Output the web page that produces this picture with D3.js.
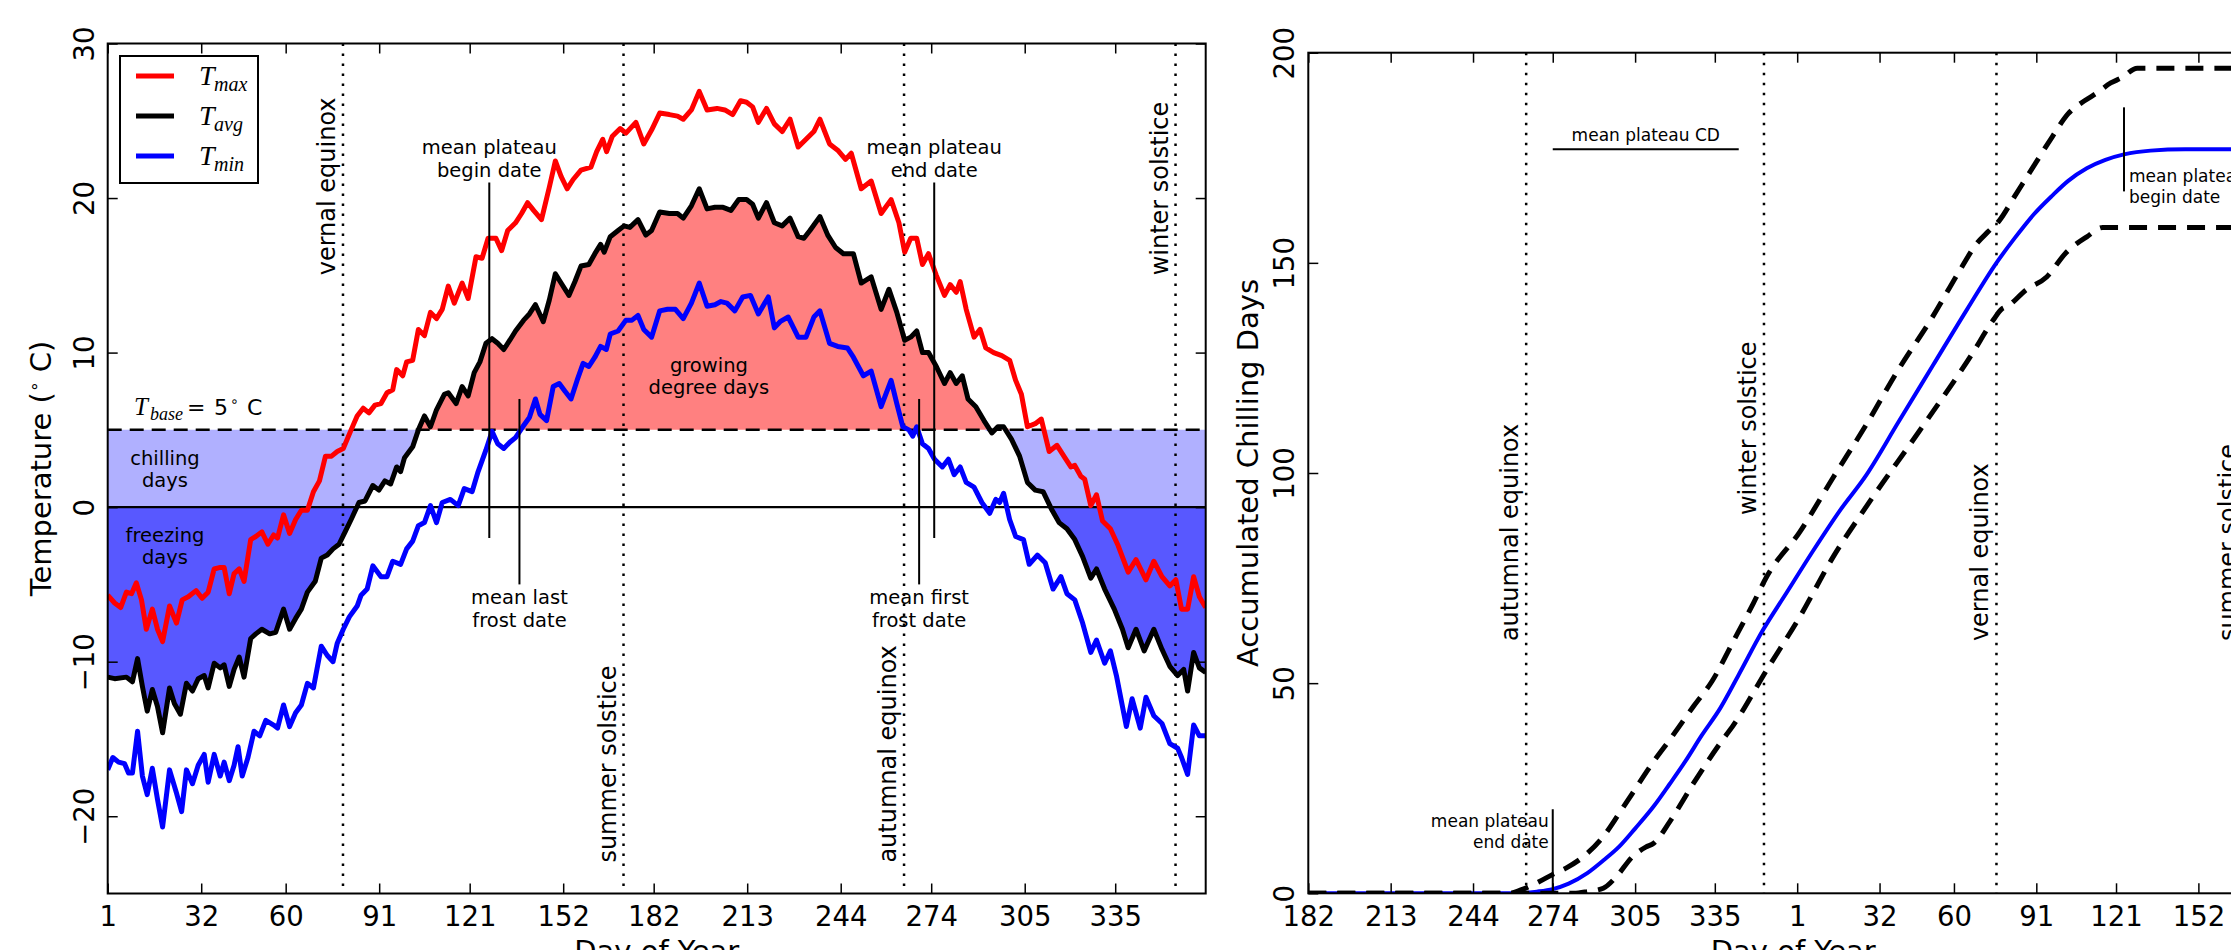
<!DOCTYPE html>
<html>
<head>
<meta charset="utf-8">
<script src="https://cdn.jsdelivr.net/npm/d3@7"></script>
<style>
    body { margin: 0; background: #fff; }
    svg { display: block; font-family: "DejaVu Sans", sans-serif; }
    .tick line { stroke: #000; stroke-width: 1.5; }
    .tick text { fill: #000; }
</style>
</head>
<body>
<svg id="chart" width="2231" height="950"></svg>
<script>
"use strict";

// ---------- left panel: daily temperatures, [day of year, deg C] ----------
const tmaxPoints = [[1,-5.7],[3.3,-6.2],[5.3,-6.5],[7.2,-5.5],[8.9,-5.6],[10.5,-4.9],[12.2,-6.0],[13.8,-7.9],[15.8,-6.6],[17.5,-7.9],[19.2,-8.7],[21.5,-6.4],[23.8,-7.5],[25.7,-6.0],[27.7,-5.8],[30.3,-5.4],[32.3,-5.9],[34.3,-5.5],[36.3,-4.0],[38.3,-3.9],[39.6,-3.9],[41.3,-5.6],[42.9,-4.3],[44.6,-4.0],[46.2,-4.8],[48.4,-2.1],[50.1,-1.9],[52.1,-1.6],[54.1,-2.4],[56,-1.8],[57.3,-2.0],[59.3,-0.5],[61.3,-1.7],[63.3,-0.8],[65.2,-0.2],[67.2,-0.2],[69.2,1.0],[71.2,1.7],[73.2,3.3],[75.2,3.3],[77.1,3.6],[79.1,3.8],[81.7,5.0],[83.7,5.9],[85.7,6.4],[87.6,6.1],[89.6,6.6],[91.6,6.7],[93.6,7.4],[95.5,7.6],[96.8,8.9],[98.8,8.5],[100.1,9.4],[102.1,9.5],[104,11.5],[106,11.1],[108,12.6],[110,12.2],[111.9,12.8],[113.9,14.3],[115.9,13.2],[118.5,14.5],[120.5,13.5],[123.1,16.2],[125.1,16.1],[127.1,17.4],[129.7,17.4],[131.6,16.6],[133.6,17.9],[136.2,18.4],[138.2,19.0],[140.2,19.7],[142.2,19.2],[144.8,18.6],[147.4,20.7],[149.4,22.4],[151.3,21.4],[153.3,20.6],[155.3,21.2],[157.9,21.8],[161.2,22.0],[163.1,23.0],[165.1,23.8],[166.4,23.0],[168.3,24.0],[170.9,24.5],[172.8,24.2],[176.1,24.9],[178.7,23.5],[181.3,24.4],[184,25.5],[187.2,25.4],[189.9,25.3],[191.8,25.1],[194.5,25.7],[197.1,26.9],[199.7,25.7],[203,25.8],[205.6,25.7],[208.2,25.4],[210.8,26.3],[212.8,26.2],[214.8,25.9],[216.7,24.9],[219.4,25.8],[222,24.8],[224.6,24.3],[227.2,25.1],[229.9,23.3],[232.5,23.8],[235.1,24.3],[237.1,25.1],[240.3,23.5],[243,23.1],[245.6,22.5],[247.5,22.9],[250.8,20.6],[254.1,21.1],[257.4,19.0],[260.7,19.9],[263.3,18.4],[265.2,16.5],[267.2,17.4],[269.2,17.4],[271.1,15.7],[273.1,16.4],[275.7,15.0],[278.4,13.7],[280.3,14.4],[282.3,13.9],[283.6,14.6],[285.6,12.8],[288.2,11.0],[290.2,11.5],[292.1,10.3],[294.7,10.0],[297.4,9.8],[300,9.5],[302,8.2],[303.9,7.3],[305.9,5.2],[308.5,5.4],[310.5,5.7],[313.1,3.6],[315.7,4.0],[318.3,3.2],[320.3,2.6],[321.6,2.7],[323.6,2.0],[324.9,1.8],[326.9,0.1],[328.8,0.8],[330.8,-0.9],[333.4,-1.4],[336,-2.5],[339.3,-4.2],[341.9,-3.4],[345.2,-4.7],[347.8,-3.5],[350.5,-4.5],[353.1,-5.1],[355.1,-4.7],[357,-6.6],[359,-6.6],[361,-4.5],[362.9,-5.8],[365,-6.5]];

const tavgPoints = [[1,-11.0],[3.3,-11.1],[7.2,-11.0],[9.2,-11.3],[10.9,-9.8],[12.5,-11.6],[14.1,-13.2],[15.8,-11.8],[17.5,-12.9],[19.2,-14.6],[21.5,-11.7],[23.1,-12.7],[25.1,-13.4],[27.1,-11.4],[29.1,-11.9],[31,-11.1],[33,-10.9],[34.3,-11.7],[36.3,-10.1],[38.3,-10.4],[39.6,-10.2],[41.3,-11.6],[42.9,-10.5],[44.6,-9.7],[46.2,-11.0],[48.4,-8.5],[50.1,-8.2],[52.1,-7.9],[54.7,-8.2],[56.7,-8.1],[59.3,-6.6],[61.3,-7.9],[63.3,-7.2],[65.2,-6.6],[67.2,-5.5],[69.8,-4.8],[71.8,-3.3],[73.8,-3.1],[75.7,-2.7],[77.7,-2.4],[79.7,-1.6],[81.7,-0.8],[84.3,0.3],[86.3,0.4],[88.9,1.4],[90.9,1.1],[92.9,1.7],[94.8,1.5],[96.8,2.6],[98.1,2.3],[99.4,3.2],[102.1,3.9],[104,5.0],[106,5.9],[108,5.2],[110,6.3],[112.6,7.3],[113.9,7.4],[116.5,6.7],[118.5,7.8],[120.5,7.2],[122.5,8.7],[124.4,9.4],[126.4,10.6],[128.4,10.9],[130.3,10.6],[132.3,10.2],[134.3,10.8],[136.2,11.4],[138.9,12.1],[140.8,12.5],[142.8,13.1],[145.4,12.0],[147.4,13.4],[149.4,15.1],[151.3,14.5],[153.9,13.7],[155.9,14.6],[157.9,15.6],[160.5,15.7],[162.5,16.4],[164.4,17.0],[165.6,16.5],[167.6,17.5],[170.2,17.9],[172.2,18.2],[174.1,18.1],[176.8,18.6],[179.4,17.6],[181.3,17.9],[184,19.1],[187.2,19.0],[189.9,19.0],[191.8,18.7],[194.5,19.5],[197.1,20.6],[199.7,19.3],[202.3,19.4],[205,19.4],[207.6,19.2],[210.2,19.9],[212.8,19.9],[214.8,19.6],[216.7,18.7],[219.4,19.7],[222,18.4],[224.6,18.2],[227.2,18.7],[229.9,17.5],[231.8,17.4],[233.8,17.9],[237.1,18.8],[239.7,17.6],[242.3,16.8],[244.9,16.4],[248.2,16.4],[250.8,14.5],[254.1,14.9],[257.4,12.8],[260,14.1],[262.6,12.6],[265.2,10.8],[267.2,11.0],[269.2,11.4],[271.1,10.0],[273.1,10.0],[275.7,9.1],[278.4,8.0],[280.3,8.7],[282.3,8.0],[284.3,8.5],[286.2,7.0],[288.8,6.5],[291.5,5.6],[294.1,4.8],[296.1,5.2],[298,5.2],[300.6,4.4],[303.3,3.3],[305.9,1.6],[308.5,1.1],[311.1,1.0],[313.8,-0.1],[316.4,-1.0],[319,-1.4],[321.6,-2.1],[324.2,-3.2],[326.9,-4.6],[328.8,-4.0],[331.5,-5.3],[334.7,-6.6],[337.4,-7.9],[339.3,-9.1],[341.9,-7.9],[344.6,-9.3],[347.8,-7.9],[350.5,-9.2],[353.1,-10.3],[355.7,-10.9],[357.7,-10.5],[359,-11.9],[361,-9.4],[362.9,-10.4],[365,-10.7]];

const tminPoints = [[1,-17.0],[2.7,-16.2],[4.6,-16.5],[6.6,-16.6],[7.9,-17.2],[9.2,-17.2],[10.9,-14.5],[12.5,-17.4],[14.1,-18.6],[15.8,-16.9],[17.5,-18.9],[19.2,-20.7],[21.5,-17.0],[23.8,-18.5],[25.5,-19.7],[27.1,-17.0],[29.1,-17.9],[31,-16.7],[33,-16.0],[34.3,-17.8],[36.3,-16.0],[38.3,-17.4],[39.6,-16.5],[41.3,-17.7],[42.9,-16.7],[44.2,-15.5],[45.6,-17.4],[47.5,-16.2],[49.5,-14.5],[51.4,-14.8],[53.4,-13.8],[56,-14.1],[57.3,-14.3],[59.3,-12.8],[61.3,-14.2],[63.3,-13.3],[65.2,-12.8],[67.2,-11.4],[69.2,-11.7],[71.8,-9.0],[73.8,-9.6],[75.7,-10.0],[77.1,-8.8],[79.1,-7.9],[81.1,-7.1],[83.7,-6.4],[85,-5.7],[87,-5.3],[88.9,-3.8],[91.6,-4.5],[93.6,-4.5],[95.5,-3.5],[98.1,-3.7],[100.1,-2.7],[102.1,-2.2],[104,-1.2],[106,-1.0],[108,0.1],[110,-1.0],[111.9,0.3],[114.6,0.5],[117.2,0.1],[119.2,1.2],[121.8,1.0],[123.8,2.3],[126.4,3.7],[128.4,4.9],[130.3,4.1],[132.3,3.8],[134.3,4.2],[136.2,4.5],[138.6,5.2],[140.8,5.8],[142.8,7.0],[144.3,6.0],[146.5,5.6],[148.7,7.8],[150.7,8.0],[152.6,7.5],[154.6,7.0],[156.6,8.2],[158.6,9.3],[160.5,9.1],[162.5,9.7],[164.4,10.4],[166.3,10.2],[167.6,11.2],[170.2,11.4],[172.8,12.1],[174.8,12.1],[176.8,12.4],[178.7,11.5],[181.3,11.0],[184,12.7],[186.6,12.8],[189.2,12.8],[191.8,12.2],[194.5,13.2],[197.1,14.5],[199.7,13.0],[202.3,13.1],[204.3,13.3],[206.3,13.2],[208.9,12.7],[211.5,13.6],[214.1,13.7],[216.7,12.5],[220,13.6],[222,11.6],[223.9,12.0],[226.6,12.3],[229.9,11.0],[232.5,11.0],[235.1,12.3],[237.1,12.7],[240.3,10.6],[243,10.4],[246.2,10.3],[248.2,9.7],[251.5,8.5],[254.1,8.8],[257.4,6.5],[260.7,8.2],[262.6,6.7],[264.6,5.2],[266.6,5.0],[267.9,4.6],[269.2,5.2],[271.1,4.1],[273.1,3.8],[275.1,3.1],[277.7,2.6],[279.7,3.1],[281.6,2.1],[283.6,2.6],[285.6,1.6],[288.2,1.3],[290.8,0.3],[293.4,-0.4],[295.4,0.5],[296.7,0.3],[298,0.9],[300,-0.8],[302,-1.9],[304.6,-2.1],[306.5,-3.7],[309.2,-3.1],[311.8,-3.6],[314.4,-5.3],[317,-4.5],[319,-5.6],[321.6,-6.0],[324.2,-7.5],[326.9,-9.4],[328.8,-8.6],[331.5,-10.1],[333.4,-9.3],[335.4,-10.9],[338.7,-14.2],[340.6,-12.4],[343.3,-14.3],[345.2,-12.3],[347.8,-13.5],[350.5,-14.0],[353.1,-15.3],[355.7,-15.6],[357,-16.2],[359,-17.3],[361,-14.1],[362.9,-14.8],[365,-14.8]];

const tBase = 5;
const seasonDays = [79, 172, 265, 355];
const seasonNames = ["vernal equinox", "summer solstice", "autumnal equinox", "winter solstice"];
const dayTicks = [1, 32, 60, 91, 121, 152, 182, 213, 244, 274, 305, 335];
const tempTicks = [-20, -10, 0, 10, 20, 30];
// mean plateau begin / end and mean last / first frost, day of year
const plateauDays = [127.5, 275];
const frostDays = [137.5, 270];

// ---------- right panel: accumulated chilling days, [day counted from Jan 1 of year one, CD] ----------
// days after 365 belong to the following year (366 = Jan 1)
const cdMean = [[182,0],[260,0],[268,0.4],[274,1],[280,2.3],[287,4.8],[293,7.8],[299,11.1],[305,15.4],[312,20.7],[318,26],[324,31.5],[330,37.5],[337,44],[344,52],[353,62.5],[362,71.5],[372,81.5],[382,91],[392,99.5],[404,112],[417,125.5],[430,139],[441,150],[448,156],[455,161.5],[462,166],[468,169.5],[475,172.5],[482,174.5],[489,175.8],[499,176.7],[512,177],[547,177]];
const cdUpper = [[182,0],[258,0],[262,0.8],[269,2.8],[274,4.5],[279,6],[285.5,8.7],[293,13.5],[299,19],[304,23.8],[311,30.5],[318,36.5],[327,44.5],[334,50.5],[342,60],[349.5,69],[354.5,75.3],[367,86],[379.6,99],[392,111.5],[404,124.5],[417,137.2],[427,148],[433.6,154.6],[438,157.5],[442,160],[448,166],[455,173],[462,180],[468,185.5],[474,188.5],[479,190.5],[484,192.8],[488,194],[494,196.3],[547,196.3]];
const cdLower = [[182,0],[282,0],[287,0.4],[293,1.2],[298,4],[304,8.7],[309,11],[312,11.9],[318,17],[327,26.2],[337,35.7],[342,40],[354.5,53.1],[367,65.8],[379.6,80.1],[392,92],[412,110],[432,128.5],[439.8,136.4],[443,139],[445,139.6],[452,143.5],[460,146.7],[467,152.3],[475,156.2],[481,158.4],[547,158.4]];
const cdTicks = [182, 213, 244, 274, 305, 335, 366, 397, 425, 456, 486, 517];
const cdValueTicks = [0, 50, 100, 150, 200];
const cdSeasonDays = [264, 353.5, 441, 534];
const cdSeasonNames = ["autumnal equinox", "winter solstice", "vernal equinox", "summer solstice"];
const meanPlateauCD = 177;
const cdPlateauEnd = 274;
const cdPlateauBegin = 489;
const cdPlateauSpan = [274, 344];

const svg = d3.select("#chart");
const tickFont = 27.5;
const labelFont = 29;

/**
 * inward ticks on all four sides, y labels turned on their side
 */
function drawFrame(g, box, x, y, xTicks, yTicks, xFormat) {
    const clean = sel => sel.select(".domain").remove();
    g.append("g").attr("transform", `translate(0,${box.bottom})`)
        .call(d3.axisBottom(x).tickValues(xTicks).tickSize(-10).tickPadding(13).tickFormat(xFormat))
        .call(clean)
        .attr("font-family", null).attr("font-size", tickFont);
    g.append("g").attr("transform", `translate(0,${box.top})`)
        .call(d3.axisTop(x).tickValues(xTicks).tickSize(-10).tickFormat(""))
        .call(clean);
    const left = g.append("g").attr("transform", `translate(${box.left},0)`)
        .call(d3.axisLeft(y).tickValues(yTicks).tickSize(-10).tickFormat(d3.format("d")))
        .call(clean)
        .attr("font-family", null).attr("font-size", tickFont);
    left.selectAll(".tick text")
        .attr("x", 0).attr("dy", null)
        .attr("text-anchor", "middle")
        .attr("transform", "translate(-14,0) rotate(-90)");
    g.append("g").attr("transform", `translate(${box.right},0)`)
        .call(d3.axisRight(y).tickValues(yTicks).tickSize(-10).tickFormat(""))
        .call(clean);
    g.append("rect")
        .attr("x", box.left).attr("y", box.top)
        .attr("width", box.right - box.left).attr("height", box.bottom - box.top)
        .attr("fill", "none").attr("stroke", "#000").attr("stroke-width", 2);
}

function sideText(g, x, y, text, size) {
    return g.append("text")
        .attr("transform", `translate(${x},${y}) rotate(-90)`)
        .attr("font-size", size)
        .text(text);
}

function multiLine(g, x, y, lines, size, anchor, gap) {
    const t = g.append("text").attr("font-size", size).attr("text-anchor", anchor);
    lines.forEach((s, i) => t.append("tspan").attr("x", x).attr("y", y + i * gap).text(s));
    return t;
}

// ================= left panel =================
const L = {left: 107.7, right: 1205.7, top: 43.5, bottom: 893.5};
const xL = d3.scaleLinear().domain([1, 365]).range([L.left, L.right]);
const yL = d3.scaleLinear().domain([-25, 30]).range([L.bottom, L.top]);

const defs = svg.append("defs");
defs.append("clipPath").attr("id", "clip-left").append("rect")
    .attr("x", L.left).attr("y", L.top).attr("width", L.right - L.left).attr("height", L.bottom - L.top);

const gL = svg.append("g");
const plotL = gL.append("g").attr("clip-path", "url(#clip-left)");

const areaL = d3.area().x(d => xL(d[0]));
// growing degree days, chilling days, freezing days
plotL.append("path").datum(tavgPoints).attr("fill", "#ff8080")
    .attr("d", areaL.y0(yL(tBase)).y1(d => yL(Math.max(d[1], tBase))));
plotL.append("path").datum(tavgPoints).attr("fill", "#b0b0ff")
    .attr("d", areaL.y0(yL(tBase)).y1(d => yL(Math.min(Math.max(d[1], 0), tBase))));
plotL.append("path").datum(tavgPoints).attr("fill", "#5858ff")
    .attr("d", areaL.y0(yL(0)).y1(d => yL(Math.min(d[1], 0))));

plotL.selectAll("line.season").data(seasonDays).join("line")
    .attr("class", "season")
    .attr("x1", d => xL(d)).attr("x2", d => xL(d))
    .attr("y1", L.top).attr("y2", L.bottom)
    .attr("stroke", "#000").attr("stroke-width", 2.5).attr("stroke-dasharray", "2.5,7.5");

plotL.append("line")
    .attr("x1", L.left).attr("x2", L.right).attr("y1", yL(tBase)).attr("y2", yL(tBase))
    .attr("stroke", "#000").attr("stroke-width", 2.5).attr("stroke-dasharray", "14,8");
plotL.append("line")
    .attr("x1", L.left).attr("x2", L.right).attr("y1", yL(0)).attr("y2", yL(0))
    .attr("stroke", "#000").attr("stroke-width", 2.2);

const lineL = d3.line().x(d => xL(d[0])).y(d => yL(d[1]));
[[tmaxPoints, "#ff0000"], [tavgPoints, "#000000"], [tminPoints, "#0000ff"]].forEach(([pts, c]) => {
    plotL.append("path").datum(pts)
        .attr("fill", "none").attr("stroke", c).attr("stroke-width", 5)
        .attr("stroke-linejoin", "round").attr("d", lineL);
});

// marker lines for plateau and frost dates
plateauDays.forEach(d => {
    gL.append("line").attr("x1", xL(d)).attr("x2", xL(d)).attr("y1", yL(21)).attr("y2", yL(-2))
        .attr("stroke", "#000").attr("stroke-width", 2);
});
frostDays.forEach(d => {
    gL.append("line").attr("x1", xL(d)).attr("x2", xL(d)).attr("y1", yL(7)).attr("y2", yL(-5))
        .attr("stroke", "#000").attr("stroke-width", 2);
});

const noteFont = 19.5;
multiLine(gL, xL(plateauDays[0]), 154, ["mean plateau", "begin date"], noteFont, "middle", 23);
multiLine(gL, xL(plateauDays[1]), 154, ["mean plateau", "end date"], noteFont, "middle", 23);
multiLine(gL, xL(frostDays[0]), 604, ["mean last", "frost date"], noteFont, "middle", 23);
multiLine(gL, xL(frostDays[1]), 604, ["mean first", "frost date"], noteFont, "middle", 23);
multiLine(gL, xL(20), 465, ["chilling", "days"], noteFont, "middle", 22);
multiLine(gL, xL(20), 542, ["freezing", "days"], noteFont, "middle", 22);
multiLine(gL, xL(200.3), 372, ["growing", "degree days"], noteFont, "middle", 22);

const seasonStartL = {"vernal equinox": 15, "winter solstice": 15, "summer solstice": -23, "autumnal equinox": -23};
seasonDays.forEach((d, i) => sideText(gL, xL(d) - 8, yL(seasonStartL[seasonNames[i]]), seasonNames[i], 24));

// T_base label
const tb = gL.append("text").attr("y", 415);
tb.append("tspan").attr("x", 134).attr("font-family", "Liberation Serif").attr("font-style", "italic")
    .attr("font-size", 25).text("T");
tb.append("tspan").attr("x", 150).attr("dy", 5).attr("font-family", "Liberation Serif").attr("font-style", "italic")
    .attr("font-size", 18).text("base");
tb.append("tspan").attr("x", 187).attr("dy", -5).attr("font-size", 22).text("=");
tb.append("tspan").attr("x", 214).attr("font-size", 22).text("5");
tb.append("tspan").attr("x", 230).attr("dy", -9).attr("font-size", 14).text("∘");
tb.append("tspan").attr("x", 247).attr("dy", 9).attr("font-size", 22).text("C");

drawFrame(gL, L, xL, yL, dayTicks, tempTicks, d3.format("d"));

// legend
const legend = gL.append("g");
legend.append("rect").attr("x", 120).attr("y", 56).attr("width", 138).attr("height", 127)
    .attr("fill", "#fff").attr("stroke", "#000").attr("stroke-width", 2);
[["#ff0000", "max"], ["#000000", "avg"], ["#0000ff", "min"]].forEach(([c, sub], i) => {
    const y = 76 + i * 40;
    legend.append("line").attr("x1", 136).attr("x2", 174).attr("y1", y).attr("y2", y)
        .attr("stroke", c).attr("stroke-width", 5);
    const t = legend.append("text").attr("y", y + 9)
        .attr("font-family", "Liberation Serif").attr("font-style", "italic");
    t.append("tspan").attr("x", 199).attr("font-size", 28).text("T");
    t.append("tspan").attr("x", 214).attr("dy", 6).attr("font-size", 20).text(sub);
});

const ylab = gL.append("text")
    .attr("transform", `translate(51,${(L.top + L.bottom) / 2}) rotate(-90)`)
    .attr("text-anchor", "middle").attr("font-size", labelFont);
ylab.append("tspan").text("Temperature (");
ylab.append("tspan").attr("dy", -11).attr("font-size", 17).text("∘");
ylab.append("tspan").attr("dy", 11).text(" C)");

gL.append("text").attr("x", (L.left + L.right) / 2).attr("y", 961)
    .attr("text-anchor", "middle").attr("font-size", labelFont).text("Day of Year");

// ================= right panel =================
const R = {left: 1308.3, right: 2278.1, top: 52.7, bottom: 893.3};
const xR = d3.scaleLinear().domain([182, 547]).range([R.left, R.right]);
const yR = d3.scaleLinear().domain([0, 200]).range([R.bottom, R.top]);

defs.append("clipPath").attr("id", "clip-right").append("rect")
    .attr("x", R.left).attr("y", R.top).attr("width", R.right - R.left).attr("height", R.bottom - R.top);

const gR = svg.append("g");
const plotR = gR.append("g").attr("clip-path", "url(#clip-right)");

plotR.selectAll("line.season").data(cdSeasonDays).join("line")
    .attr("class", "season")
    .attr("x1", d => xR(d)).attr("x2", d => xR(d))
    .attr("y1", R.top).attr("y2", R.bottom)
    .attr("stroke", "#000").attr("stroke-width", 2.5).attr("stroke-dasharray", "2.5,7.5");

const lineR = d3.line().x(d => xR(d[0])).y(d => yR(d[1])).curve(d3.curveMonotoneX);
plotR.append("path").datum(cdMean)
    .attr("fill", "none").attr("stroke", "#0000ff").attr("stroke-width", 4).attr("d", lineR);
[cdUpper, cdLower].forEach(pts => {
    plotR.append("path").datum(pts)
        .attr("fill", "none").attr("stroke", "#000").attr("stroke-width", 5)
        .attr("stroke-dasharray", "18,11").attr("d", lineR);
});

const seasonStartR = {"autumnal equinox": 60, "winter solstice": 90, "vernal equinox": 60, "summer solstice": 60};
cdSeasonDays.forEach((d, i) => sideText(gR, xR(d) - 8, yR(seasonStartR[cdSeasonNames[i]]), cdSeasonNames[i], 24));

const smallFont = 17;
gR.append("line")
    .attr("x1", xR(cdPlateauSpan[0])).attr("x2", xR(cdPlateauSpan[1]))
    .attr("y1", yR(meanPlateauCD)).attr("y2", yR(meanPlateauCD))
    .attr("stroke", "#000").attr("stroke-width", 2);
gR.append("text").attr("x", xR((cdPlateauSpan[0] + cdPlateauSpan[1]) / 2)).attr("y", yR(meanPlateauCD) - 8)
    .attr("text-anchor", "middle").attr("font-size", smallFont).text("mean plateau CD");

gR.append("line").attr("x1", xR(cdPlateauBegin)).attr("x2", xR(cdPlateauBegin))
    .attr("y1", yR(187)).attr("y2", yR(167)).attr("stroke", "#000").attr("stroke-width", 2);
multiLine(gR, xR(cdPlateauBegin) + 5, yR(meanPlateauCD) + 33, ["mean plateau", "begin date"], smallFont, "start", 21);

gR.append("line").attr("x1", xR(cdPlateauEnd)).attr("x2", xR(cdPlateauEnd))
    .attr("y1", yR(20)).attr("y2", yR(0)).attr("stroke", "#000").attr("stroke-width", 2);
multiLine(gR, xR(cdPlateauEnd) - 4, yR(20) + 17.5, ["mean plateau", "end date"], smallFont, "end", 21.5);

drawFrame(gR, R, xR, yR, cdTicks, cdValueTicks, d => (d - 1) % 365 + 1);

gR.append("text")
    .attr("transform", `translate(1258,${(R.top + R.bottom) / 2}) rotate(-90)`)
    .attr("text-anchor", "middle").attr("font-size", labelFont).text("Accumulated Chilling Days");

gR.append("text").attr("x", (R.left + R.right) / 2).attr("y", 961)
    .attr("text-anchor", "middle").attr("font-size", labelFont).text("Day of Year");
</script>
</body>
</html>
